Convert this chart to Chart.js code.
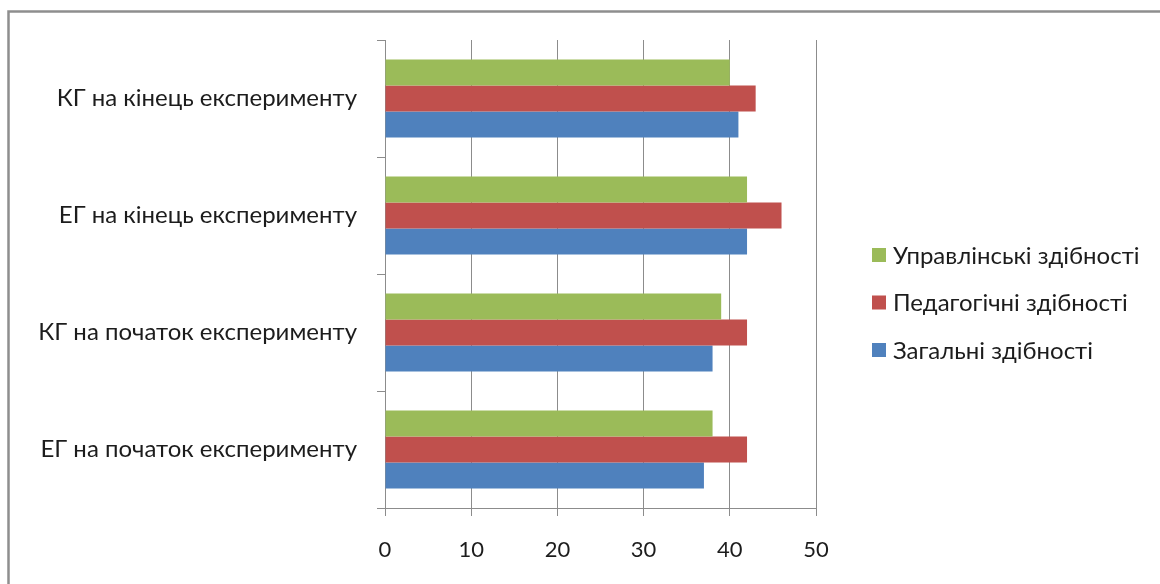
<!DOCTYPE html>
<html>
<head>
<meta charset="utf-8">
<script src="https://cdn.jsdelivr.net/npm/chart.js@4.4.1/dist/chart.umd.min.js"></script>
<style>
  html, body { margin: 0; padding: 0; background: #fff; overflow: hidden; }
  #wrap { width: 1160px; height: 584px; position: relative; }
</style>
</head>
<body>
<div id="wrap"><canvas id="chart" width="1160" height="584"></canvas></div>
<script>
const groups = [
    'КГ на кінець експерименту',
    'ЕГ на кінець експерименту',
    'КГ на початок експерименту',
    'ЕГ на початок експерименту'
];
const seriesNames = ['Управлінські здібності', 'Педагогічні здібності', 'Загальні здібності'];
const managerial = [40, 42, 39, 38];
const pedagogical = [43, 46, 42, 42];
const general = [41, 42, 38, 37];
const xTicks = [0, 10, 20, 30, 40, 50];

const colors = ['#9bbb59', '#c0504d', '#4f81bd'];
const FONT = 'Lato, "Open Sans", sans-serif';
const TEXT = '#1c1c1c';
const GRID = '#8c8c8c';

// outer frame around the whole chart object
const frame = {
    id: 'frame',
    beforeDraw(chart) {
        const ctx = chart.ctx;
        ctx.save();
        ctx.strokeStyle = '#8e8e8e';
        ctx.lineWidth = 2.5;
        ctx.strokeRect(8.5, 11.5, 1400, 800);
        ctx.restore();
    }
};

// legend drawn to the right of the plot, one row per series
const sideLegend = {
    id: 'sideLegend',
    afterDraw(chart) {
        const ctx = chart.ctx;
        ctx.save();
        ctx.font = '24px ' + FONT;
        ctx.textBaseline = 'middle';
        ctx.textAlign = 'left';
        chart.data.datasets.forEach((ds, i) => {
            const cy = 255 + i * 47.5;
            ctx.fillStyle = ds.backgroundColor;
            ctx.fillRect(872, cy - 7, 14, 14);
            ctx.fillStyle = TEXT;
            ctx.fillText(ds.label, 893, cy + 1);
        });
        ctx.restore();
    }
};

new Chart(document.getElementById('chart'), {
    type: 'bar',
    data: {
        labels: groups,
        datasets: [
            { label: seriesNames[0], data: managerial, backgroundColor: colors[0] },
            { label: seriesNames[1], data: pedagogical, backgroundColor: colors[1] },
            { label: seriesNames[2], data: general, backgroundColor: colors[2] }
        ]
    },
    options: {
        indexAxis: 'y',
        responsive: false,
        animation: false,
        categoryPercentage: 0.667,
        barPercentage: 1.0,
        layout: { padding: { top: 40, right: 344, left: 0, bottom: 0 } },
        plugins: {
            legend: { display: false },
            tooltip: { enabled: false }
        },
        scales: {
            x: {
                min: 0, max: 50,
                afterBuildTicks: s => { s.ticks = xTicks.map(v => ({ value: v })); },
                afterFit: s => { s.height = 76; },
                grid: { color: GRID, lineWidth: 1, drawTicks: true, tickLength: 8 },
                border: { color: GRID, width: 1 },
                ticks: { color: TEXT, padding: 21, font: { family: FONT, size: 22 } }
            },
            y: {
                afterFit: s => { s.width = 385; },
                grid: { display: true, drawOnChartArea: false, drawTicks: true, tickLength: 8, color: GRID, offset: true },
                border: { color: GRID, width: 1 },
                ticks: { color: TEXT, padding: 20, font: { family: FONT, size: 24 } }
            }
        }
    },
    plugins: [frame, sideLegend]
});
</script>
</body>
</html>
